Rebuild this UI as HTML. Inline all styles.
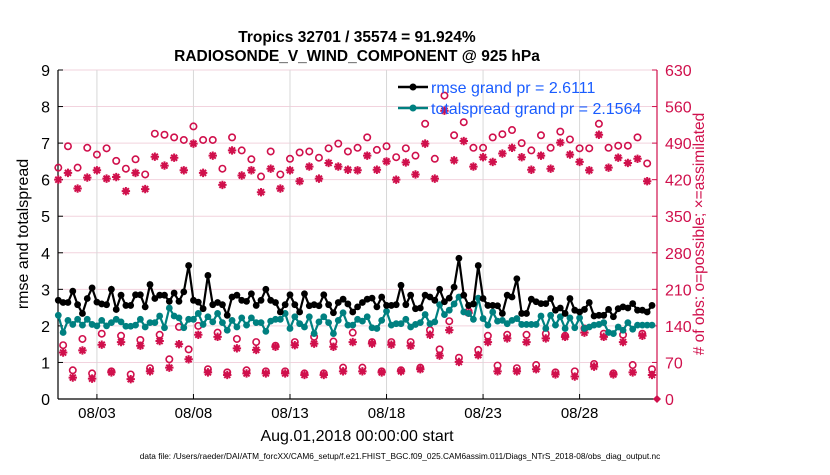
<!DOCTYPE html>
<html><head><meta charset="utf-8"><style>
body{margin:0;background:#fff;}
svg text{font-family:"Liberation Sans",sans-serif;}
</style></head><body>
<svg id="chart" width="830" height="470" xmlns="http://www.w3.org/2000/svg">
<rect width="830" height="470" fill="#fff"/>
<text x="357" y="42" text-anchor="middle" font-size="15.5" font-weight="bold">Tropics 32701 / 35574 = 91.924%</text>
<text x="357" y="61" text-anchor="middle" font-size="15.5" font-weight="bold">RADIOSONDE_V_WIND_COMPONENT @ 925 hPa</text>
<g id="grid"></g>
<g id="axes"></g>
<g id="series"></g>
<text transform="translate(28,234) rotate(-90)" text-anchor="middle" font-size="16">rmse and totalspread</text>
<text transform="translate(704,234) rotate(-90)" text-anchor="middle" font-size="15.5" fill="#d0104c"># of obs: o=possible; ×=assimilated</text>
<text x="357" y="441" text-anchor="middle" font-size="16">Aug.01,2018 00:00:00 start</text>
<text x="400" y="459" text-anchor="middle" font-size="8.3">data file: /Users/raeder/DAI/ATM_forcXX/CAM6_setup/f.e21.FHIST_BGC.f09_025.CAM6assim.011/Diags_NTrS_2018-08/obs_diag_output.nc</text>
<g>
<line x1="398" y1="87" x2="428" y2="87" stroke="#000" stroke-width="2.5"/>
<circle cx="413" cy="87" r="3.5" fill="#000"/>
<text x="431" y="93" font-size="16" fill="#1a5cff">rmse grand pr = 2.6111</text>
<line x1="398" y1="108" x2="428" y2="108" stroke="#008080" stroke-width="2.5"/>
<circle cx="413" cy="108" r="3.5" fill="#008080"/>
<text x="431" y="114" font-size="16" fill="#1a5cff">totalspread grand pr = 2.1564</text>
</g>
</svg>
<script>
const rmse = [2.7,2.64,2.64,2.95,2.58,2.34,2.75,3.04,2.65,2.6,2.58,3.0,2.45,2.84,2.56,2.56,2.85,2.85,2.52,3.13,2.75,2.84,2.84,2.67,2.9,2.67,2.93,3.65,2.7,2.65,2.47,3.38,
2.58,2.64,2.58,2.29,2.79,2.84,2.7,2.67,2.88,2.56,2.7,3.0,2.7,2.64,2.38,2.58,2.85,2.58,2.38,2.88,2.55,2.58,2.55,2.85,2.58,2.36,2.64,2.73,2.6,2.38,
2.52,2.64,2.73,2.76,2.52,2.79,2.56,2.56,2.58,3.11,2.58,2.84,2.47,2.49,2.84,2.79,2.7,3.0,2.66,2.76,3.06,3.85,2.84,2.56,2.6,3.65,2.75,2.56,2.56,2.55,2.34,2.84,
2.79,3.29,2.34,2.34,2.73,2.66,2.61,2.61,2.75,2.43,2.49,2.34,2.75,2.43,2.38,2.45,2.64,2.27,2.29,2.29,2.45,2.25,2.47,2.52,2.49,2.61,2.43,2.43,2.38,2.56];
const spread = [2.29,1.82,2.15,2.04,2.18,2.02,2.18,2.04,2.0,2.15,2.0,2.09,2.18,2.11,1.99,1.99,2.02,2.18,1.97,2.09,2.09,2.27,1.95,2.49,2.27,2.22,1.95,2.18,2.18,2.34,2.04,2.25,
2.11,2.34,2.09,1.88,2.15,1.97,2.22,2.02,2.22,2.09,2.09,1.85,2.13,2.18,2.18,2.34,1.93,2.25,2.06,1.97,2.25,1.79,2.11,2.25,2.09,1.79,2.15,2.36,2.02,2.02,
2.18,2.13,2.25,1.95,1.93,2.15,2.4,2.02,2.06,2.06,2.18,1.97,2.04,2.09,2.31,2.06,2.11,2.58,2.31,2.43,2.6,2.79,2.38,2.34,2.18,2.76,2.2,2.02,2.38,2.13,2.15,2.06,
2.15,2.2,2.04,2.04,2.04,2.04,2.27,1.93,2.29,2.02,2.25,1.93,2.22,1.95,2.22,1.93,1.97,2.02,2.04,2.09,1.82,1.79,1.97,1.88,2.09,1.91,2.02,2.02,2.02,2.02];
// obs counts at 00Z/12Z (even steps)
const synPossible = [443,484,443,481,468,480,456,441,459,430,508,506,501,496,522,496,496,441,501,476,459,426,474,430,460,472,474,462,480,489,474,481,501,477,484,463,480,466,527,460,581,505,530,481,481,501,507,515,490,476,505,481,512,497,480,480,527,481,485,485,501,451];
const synAssim = [420,433,403,424,438,422,425,398,433,402,464,447,462,438,489,433,466,410,476,428,438,396,441,403,438,417,445,422,452,445,439,438,466,439,455,420,453,430,489,422,552,457,494,445,463,454,470,481,463,439,466,441,491,468,454,438,506,443,462,452,460,417];
// obs counts at 06Z/18Z (odd steps)
const offPossible = [103,55,115,49,125,53,121,47,113,59,123,76,138,95,140,57,127,51,115,55,109,53,102,53,109,49,119,49,110,60,127,60,109,53,109,55,109,60,132,95,149,79,168,94,121,64,123,59,123,65,125,51,121,53,135,67,125,49,123,65,125,57];
const offAssim = [89,41,93,39,104,51,109,38,102,53,111,60,105,76,123,51,119,46,97,49,94,49,100,49,103,46,106,46,100,53,109,53,106,51,104,53,102,57,123,83,132,71,165,84,109,53,116,53,109,57,116,47,119,43,127,62,119,47,109,51,121,46];
const leftTicks = [0,1,2,3,4,5,6,7,8,9];
const rightTicks = [0,70,140,210,280,350,420,490,560,630];
const dateTicks = [2,7,12,17,22,27];
const dateLabels = ["08/03","08/08","08/13","08/18","08/23","08/28"];

const NS="http://www.w3.org/2000/svg";
const X0=58.3,X1=652.0,Y0=399,Y1=70,stepDays=0.25,nSteps=123;
const dayPx=(X1-X0)/(nSteps*stepDays);
const xDay=d=>X0+d*dayPx;
const xStep=i=>xDay(i*stepDays);
const yL=v=>Y0-(v/9)*(Y0-Y1);
const yR=v=>Y0-(v/630)*(Y0-Y1);
function mk(tag,attrs,parent){const e=document.createElementNS(NS,tag);for(const k in attrs)e.setAttribute(k,attrs[k]);parent.appendChild(e);return e;}
const grid=document.getElementById('grid'),axes=document.getElementById('axes'),ser=document.getElementById('series');
const PL=58,PR=657;
leftTicks.forEach(v=>{
  if(v>0){const g=mk('line',{x1:PL,x2:PR,y1:yL(v),y2:yL(v),stroke:'#f2d3de','stroke-width':1},grid);
  
  }
  mk('line',{x1:PL,x2:PL+5,y1:yL(v),y2:yL(v),stroke:'#000'},axes);
  const l=mk('text',{x:PL-8,y:yL(v)+6,'text-anchor':'end','font-size':16},axes);
  l.textContent=v;
  
  
});
rightTicks.forEach(v=>{
  mk('line',{x1:PR-5,x2:PR,y1:yR(v),y2:yR(v),stroke:'#d0104c'},axes);
  const l=mk('text',{x:PR+8,y:yR(v)+6,'font-size':16,fill:'#d0104c'},axes);
  l.textContent=v;
  
  
});
dateTicks.forEach((d,k)=>{
  const x=xDay(d);
  const g=mk('line',{x1:x,x2:x,y1:Y1,y2:Y0,stroke:'#d8d8d8','stroke-width':1},grid);
  
  
  mk('line',{x1:x,x2:x,y1:Y0,y2:Y0-5,stroke:'#000'},axes);
  const l=mk('text',{x:x,y:418,'text-anchor':'middle','font-size':15},axes);
  l.textContent=dateLabels[k];
  
  
});
mk('line',{x1:PL,x2:PL,y1:Y1,y2:Y0,stroke:'#000','stroke-width':1.2},axes);
mk('line',{x1:PL,x2:PR,y1:Y0,y2:Y0,stroke:'#000','stroke-width':1.2},axes);
mk('line',{x1:PR,x2:PR,y1:Y1,y2:Y0,stroke:'#d0104c','stroke-width':1.2},axes);

function star(x,y,p){
  const r=4.2,d=3;
  mk('path',{d:`M${x-r},${y}H${x+r}M${x},${y-r}V${y+r}M${x-d},${y-d}L${x+d},${y+d}M${x-d},${y+d}L${x+d},${y-d}`,stroke:'#d0104c','stroke-width':2},p);
}
function obsSeries(poss,assim,offset,name){
  const g=mk('g',{},ser);
  
  
  poss.forEach((v,k)=>{const i=2*k+offset;mk('circle',{cx:xStep(i),cy:yR(v),r:3.2,fill:'none',stroke:'#d0104c','stroke-width':1.6},g);});
  assim.forEach((v,k)=>{const i=2*k+offset;star(xStep(i),yR(v),g);});
}
obsSeries(synPossible,synAssim,0,'obs-count-synoptic');
obsSeries(offPossible,offAssim,1,'obs-count-offsynoptic');
const zero=mk('path',{d:`M${PR-4},${Y0}L${PR},${Y0-4}L${PR+4},${Y0}L${PR},${Y0+4}Z`,fill:'#d0104c'},ser);



function lineSeries(arr,color,name){
  const g=mk('g',{},ser);
  
  
  mk('polyline',{points:arr.map((v,i)=>xStep(i)+','+yL(v)).join(' '),fill:'none',stroke:color,'stroke-width':2.2},g);
  arr.forEach((v,i)=>mk('circle',{cx:xStep(i),cy:yL(v),r:3.4,fill:color},g));
}
lineSeries(spread,'#008080','totalspread-line');
lineSeries(rmse,'#000','rmse-line');
</script>
</body></html>
